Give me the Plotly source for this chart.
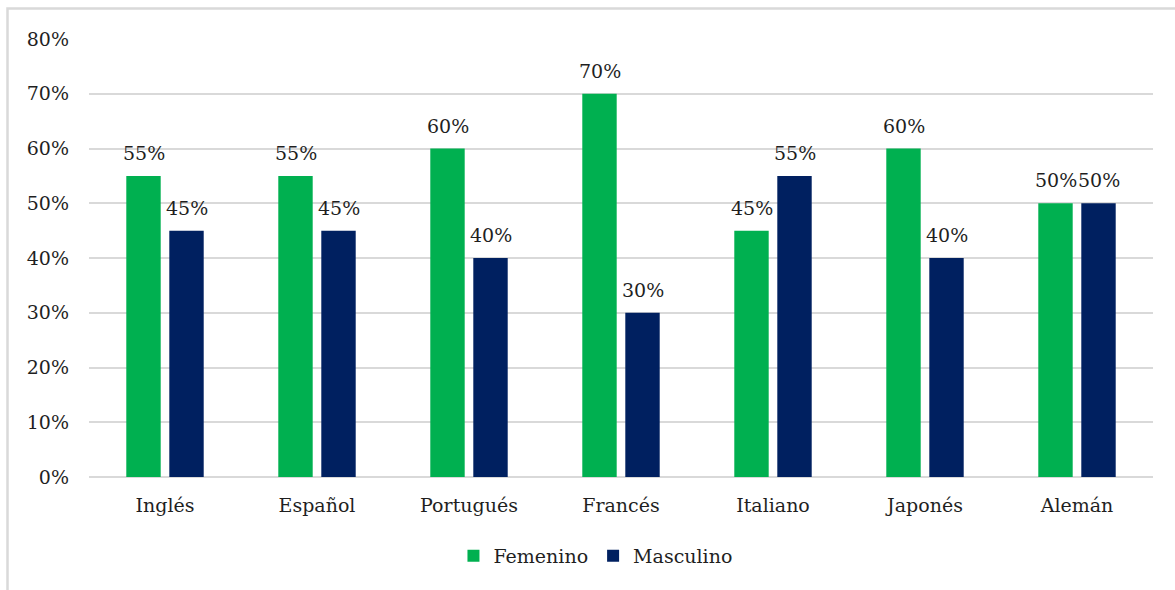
import plotly.graph_objects as go

idiomas = ["Inglés", "Español", "Portugués", "Francés", "Italiano", "Japonés", "Alemán"]
femenino = [0.55, 0.55, 0.60, 0.70, 0.45, 0.60, 0.50]
masculino = [0.45, 0.45, 0.40, 0.30, 0.55, 0.40, 0.50]
ticks_y = [0, 0.1, 0.2, 0.3, 0.4, 0.5, 0.6, 0.7, 0.8]
ticks_y_txt = ["0%", "10%", "20%", "30%", "40%", "50%", "60%", "70%", "80%"]

VERDE = "#00B050"
AZUL = "#002060"
FUENTE = "DejaVu Serif"
TAM = 19
GRIS_TXT = "#1f1f1f"

fig = go.Figure()
fig.add_trace(go.Bar(name="Femenino", x=idiomas, y=femenino, marker_color=VERDE,
                     marker_line_width=0))
fig.add_trace(go.Bar(name="Masculino", x=idiomas, y=masculino, marker_color=AZUL,
                     marker_line_width=0))

# Etiquetas de valor sobre cada barra
anots = []
for i, cat in enumerate(idiomas):
    for val, dx in ((femenino[i], -21.5), (masculino[i], 21.5)):
        anots.append(dict(x=cat, y=val, xref="x", yref="y", text=f"{round(val*100)}%",
                          showarrow=False, yanchor="bottom", yshift=10, xshift=dx,
                          font=dict(family=FUENTE, size=TAM, color=GRIS_TXT)))

fig.update_layout(
    width=1175, height=590,
    margin=dict(l=89, r=22, t=39, b=113),
    paper_bgcolor="white", plot_bgcolor="white",
    barmode="group", bargap=0.434, bargroupgap=0.2,
    font=dict(family=FUENTE, size=TAM, color=GRIS_TXT),
    annotations=anots,
    showlegend=True,
    legend=dict(orientation="h", x=0.476, xanchor="center", y=-0.18, yanchor="middle",
                font=dict(family=FUENTE, size=TAM, color=GRIS_TXT),
                itemwidth=30, traceorder="normal"),
    shapes=[dict(type="rect", xref="paper", yref="paper",
                 x0=-0.0766, x1=1.2, y0=-0.4, y1=1.0696,
                 line=dict(color="#d9d9d9", width=2.5), layer="below")],
)
fig.update_xaxes(showgrid=False, showline=False, ticks="", ticklabelstandoff=15,
                 tickfont=dict(family=FUENTE, size=TAM, color=GRIS_TXT))
fig.update_yaxes(range=[0, 0.8], tickvals=ticks_y, ticktext=ticks_y_txt,
                 showgrid=True, gridcolor="#d9d9d9", gridwidth=1.8,
                 zeroline=True, zerolinecolor="#d9d9d9", zerolinewidth=1.8,
                 showline=False, ticks="", ticklabelstandoff=19,
                 tickfont=dict(family=FUENTE, size=TAM, color=GRIS_TXT))

fig.write_html("out.html")
